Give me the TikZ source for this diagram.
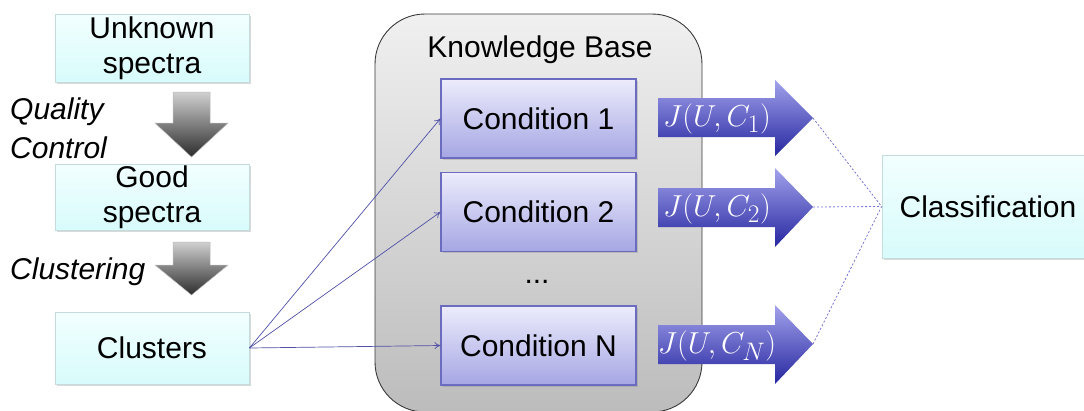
\documentclass[tikz,border=0pt]{standalone}
\usepackage{fontspec}
\setmainfont{Liberation Sans}
\usetikzlibrary{shadows,arrows.meta}
\definecolor{cyantop}{HTML}{F2FFFF}
\definecolor{cyanbot}{HTML}{D8FBFB}
\definecolor{cyanedge}{HTML}{C4DCDC}
\definecolor{condtop}{HTML}{ECECFC}
\definecolor{condbot}{HTML}{A6A6E4}
\definecolor{condedge}{HTML}{6B6BC0}
\definecolor{bluetop}{HTML}{A2A2EC}
\definecolor{bluebot}{HTML}{2626A0}
\definecolor{graytop}{HTML}{D0D0D0}
\definecolor{graybot}{HTML}{2C2C2C}
\definecolor{kbtop}{HTML}{F0F0F0}
\definecolor{kbbot}{HTML}{BCBCBC}
\definecolor{kbedge}{HTML}{3A3A3A}
\definecolor{conncol}{HTML}{5050A8}
\definecolor{dashcol}{HTML}{7474D4}
\newcommand{\bigJ}[1]{\scalebox{1.22}{$J(U,C_{#1})$}}
\begin{document}
\begin{tikzpicture}[x=1pt,y=-1pt,
  bigfont/.style={font=\fontsize{30}{35}\selectfont},
  cyanbox/.style={draw=cyanedge, line width=0.8pt, top color=cyantop, bottom color=cyanbot,
    inner sep=0pt, align=center, bigfont,
    drop shadow={shadow xshift=1.5pt,shadow yshift=-1.8pt,opacity=0.3}},
  condbox/.style={draw=condedge, line width=1.1pt, top color=condtop, bottom color=condbot,
    minimum width=195pt, minimum height=79pt, inner sep=0pt, bigfont,
    drop shadow={shadow xshift=1.5pt,shadow yshift=-1.8pt,opacity=0.3}},
  bluearrow/.style={top color=bluetop, bottom color=bluebot, draw=none},
  grayarrow/.style={top color=graytop, bottom color=graybot, draw=gray!55, line width=0.5pt},
  lbl/.style={anchor=west, inner sep=0pt, font=\fontsize{30}{35}\selectfont\itshape},
  formula/.style={text=white, inner sep=0pt, font=\fontsize{24.88}{28}\selectfont},
  conn/.style={draw=conncol, line width=0.7pt, -{To[length=6pt,width=7pt]}},
  dashline/.style={draw=dashcol, line width=0.8pt, dash pattern=on 2pt off 2pt}]
\useasboundingbox (0,0) rectangle (1084,410);

% knowledge base
\shade[top color=kbtop, bottom color=kbbot, draw=kbedge, line width=0.9pt, rounded corners=50pt]
  (375,14) rectangle (702,412);
\node[bigfont, inner sep=0pt] (kb) at (540,50) {Knowledge Base};

% left column
\node[cyanbox, minimum width=194pt, minimum height=68pt] (unk) at (152,48) {Unknown\\spectra};
\node[cyanbox, minimum width=194pt, minimum height=66pt] (good) at (152,197) {Good\\spectra};
\node[cyanbox, minimum width=194pt, minimum height=72pt] (clu) at (152,348) {Clusters};

\shade[grayarrow] (173,92) -- (210,92) -- (210,123) -- (228,123) -- (191.5,157) -- (155,123) -- (173,123) -- cycle;
\shade[grayarrow] (173,242) -- (210,242) -- (210,265) -- (228,265) -- (191.5,295) -- (155,265) -- (173,265) -- cycle;

\node[lbl] (ql) at (10,112) {Quality};
\node[lbl] (cl) at (10,148) {Control};
\node[lbl] (cs) at (10,272) {Clustering};

% conditions
\node[condbox] (c1) at (538.5,118.5) {Condition 1};
\node[condbox] (c2) at (538.5,212) {Condition 2};
\node[condbox] (cn) at (538.5,345.5) {Condition N};
\node[bigfont, inner sep=0pt, anchor=base] (dots) at (537,283) {...};

\draw[conn] (clu.east) -- (c1.west);
\draw[conn] (clu.east) -- (c2.west);
\draw[conn] (clu.east) -- (cn.west);

% J arrows
\shade[bluearrow] (658,98) -- (775,98) -- (775,80) -- (813,118) -- (775,156) -- (775,137) -- (658,137) -- cycle;
\shade[bluearrow] (658,188) -- (775,188) -- (775,168) -- (813,207) -- (775,247) -- (775,227) -- (658,227) -- cycle;
\shade[bluearrow] (658,325) -- (775,325) -- (775,305) -- (813,344) -- (775,384) -- (775,364) -- (658,364) -- cycle;
\coordinate (t1) at (813,118);
\coordinate (t2) at (813,207);
\coordinate (tn) at (813,344);
\node[formula] (j1) at (717,119) {\bigJ{1}};
\node[formula] (j2) at (717,209) {\bigJ{2}};
\node[formula] (jn) at (717,346) {\bigJ{N}};

% classification
\node[cyanbox, minimum width=212pt, minimum height=103pt] (cls) at (988,206.5) {Classification};

\draw[dashline] (t1) -- (cls.west);
\draw[dashline] (t2) -- (cls.west);
\draw[dashline] (tn) -- (cls.west);
\end{tikzpicture}
\end{document}
